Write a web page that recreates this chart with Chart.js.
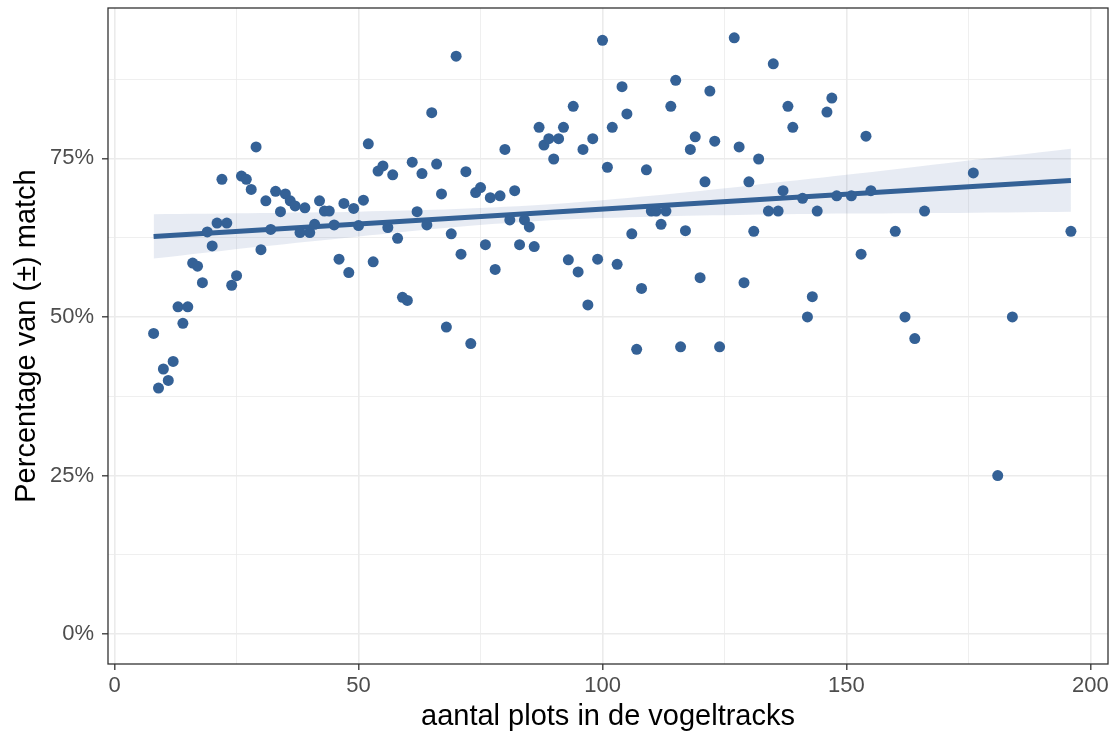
<!DOCTYPE html>
<html>
<head>
<meta charset="utf-8">
<script src="https://cdn.jsdelivr.net/npm/chart.js@4.4.0/dist/chart.umd.min.js"></script>
<style>
  html, body { margin:0; padding:0; background:#fff; }
  #wrap { width:1120px; height:736px; }
</style>
</head>
<body>
<div id="wrap"><canvas id="plot" width="1120" height="736"></canvas></div>
<script>
// aantal plots per vogeltrack en het percentage (±) match
const plots = [
  8, 9, 10, 11, 12, 13, 14, 15, 16, 17, 18, 19, 20, 21, 22, 23, 24, 25, 26, 27,
  28, 29, 30, 31, 32, 33, 34, 35, 36, 37, 38, 39, 40, 41, 42, 43, 44, 45, 46, 47,
  48, 49, 50, 51, 52, 53, 54, 55, 56, 57, 58, 59, 60, 61, 62, 63, 64, 65, 66, 67,
  68, 69, 70, 71, 72, 73, 74, 75, 76, 77, 78, 79, 80, 81, 82, 83, 84, 85, 86, 87,
  88, 89, 90, 91, 92, 93, 94, 95, 96, 97, 98, 99, 100, 101, 102, 103, 104, 105, 106, 107,
  108, 109, 110, 111, 112, 113, 114, 115, 116, 117, 118, 119, 120, 121, 122, 123, 124,
  127, 128, 129, 130, 131, 132, 134, 135, 136, 137, 138, 139, 141, 142, 143, 144,
  146, 147, 148, 151, 153, 154, 155, 160, 162, 164, 166, 176, 181, 184, 196
];
const matchPct = [
  47.4, 38.8, 41.8, 40.0, 43.0, 51.6, 49.0, 51.6, 58.5, 58.0, 55.4, 63.4, 61.2, 64.8, 71.7, 64.8, 55.0, 56.5, 72.2, 71.7,
  70.1, 76.8, 60.6, 68.3, 63.8, 69.8, 66.6, 69.4, 68.3, 67.5, 63.3, 67.2, 63.3, 64.6, 68.3, 66.7, 66.7, 64.5, 59.1, 67.9,
  57.0, 67.1, 64.4, 68.4, 77.3, 58.7, 73.0, 73.8, 64.1, 72.4, 62.4, 53.1, 52.6, 74.4, 66.6, 72.6, 64.5, 82.2, 74.1, 69.4,
  48.4, 63.1, 91.1, 59.9, 72.9, 45.8, 69.6, 70.4, 61.4, 68.8, 57.5, 69.1, 76.4, 65.3, 69.9, 61.4, 65.3, 64.2, 61.1, 79.9,
  77.1, 78.1, 74.9, 78.1, 79.9, 59.0, 83.2, 57.1, 76.4, 51.9, 78.1, 59.1, 93.6, 73.6, 79.9, 58.3, 86.3, 82.0, 63.1, 44.9,
  54.5, 73.2, 66.7, 66.7, 64.6, 66.7, 83.2, 87.3, 45.3, 63.6, 76.4, 78.4, 56.2, 71.3, 85.6, 77.7, 45.3,
  94.0, 76.8, 55.4, 71.3, 63.5, 74.9, 66.7, 89.9, 66.7, 69.9, 83.2, 79.9, 68.7, 50.0, 53.2, 66.7,
  82.3, 84.5, 69.1, 69.1, 59.9, 78.5, 69.9, 63.5, 50.0, 46.6, 66.7, 72.7, 25.0, 50.0, 63.5
];

// lineaire trend (lm) met betrouwbaarheidsband
const fitX = [8, 196];
const fitY = [62.7, 71.5];
const bandX = [8, 30, 50, 70, 90, 110, 130, 150, 170, 196];
const bandLow = [59.2, 61.1, 62.7, 64.2, 65.3, 65.8, 66.1, 66.3, 66.4, 66.6];
const bandHigh = [66.2, 66.4, 66.6, 67.0, 67.8, 69.1, 70.7, 72.4, 74.2, 76.5];

const xTicks = [0, 50, 100, 150, 200];
const yTicks = [0, 25, 50, 75];

const blue = '#346196';
const gridCol = '#EBEBEB';
const axisCol = '#333333';
const fontFam = '"Liberation Sans", Arial, Helvetica, sans-serif';

const pairs = (xs, ys) => xs.map((x, i) => ({x: x, y: ys[i]}));

// rand om het paneel (theme_bw)
const panelBorder = {
  id: 'panelBorder',
  afterDraw(chart){
    const {ctx, chartArea:a} = chart;
    ctx.save();
    ctx.strokeStyle = axisCol;
    ctx.lineWidth = 1.3;
    ctx.strokeRect(a.left, a.top, a.right - a.left, a.bottom - a.top);
    ctx.restore();
  }
};

const isMajor = (list, v) => list.includes(v);

new Chart(document.getElementById('plot'), {
  type: 'scatter',
  data: {
    datasets: [
      {
        label: 'tracks',
        data: pairs(plots, matchPct),
        backgroundColor: blue,
        borderWidth: 0,
        pointRadius: 5.5,
        pointHoverRadius: 5.5
      },
      {
        type: 'line',
        label: 'trend',
        data: pairs(fitX, fitY),
        borderColor: blue,
        borderWidth: 5,
        pointRadius: 0,
        fill: false
      },
      {
        type: 'line',
        label: 'band boven',
        data: pairs(bandX, bandHigh),
        borderWidth: 0,
        borderColor: 'rgba(0,0,0,0)',
        backgroundColor: 'rgba(60,90,160,0.12)',
        pointRadius: 0,
        tension: 0.3,
        fill: '+1'
      },
      {
        type: 'line',
        label: 'band onder',
        data: pairs(bandX, bandLow),
        borderWidth: 0,
        borderColor: 'rgba(0,0,0,0)',
        pointRadius: 0,
        tension: 0.3,
        fill: false
      }
    ]
  },
  options: {
    responsive: false,
    animation: false,
    layout: { padding: { top: 8, right: 12, left: 0, bottom: 0 } },
    plugins: { legend: { display: false }, tooltip: { enabled: false } },
    scales: {
      x: {
        type: 'linear',
        min: -1.35,
        max: 203.6,
        afterFit(s){ s.height = 72; s.paddingLeft = 0; s.paddingRight = 0; },
        border: { display: false },
        grid: {
          color: gridCol,
          lineWidth: c => isMajor(xTicks, c.tick && c.tick.value) ? 1.6 : 0.8,
          tickColor: c => isMajor(xTicks, c.tick && c.tick.value) ? axisCol : 'rgba(0,0,0,0)',
          tickLength: 6,
          tickWidth: 1.3
        },
        ticks: {
          stepSize: 25,
          includeBounds: false,
          autoSkip: false,
          maxRotation: 0,
          padding: 3,
          color: '#4D4D4D',
          font: { family: fontFam, size: 22 },
          callback: v => isMajor(xTicks, v) ? String(v) : ''
        },
        title: {
          display: true,
          text: 'aantal plots in de vogeltracks',
          color: '#000',
          font: { family: fontFam, size: 29 },
          padding: { top: 0, bottom: 2 }
        }
      },
      y: {
        type: 'linear',
        min: -4.7,
        max: 98.7,
        afterFit(s){ s.width = 108; s.paddingTop = 0; s.paddingBottom = 0; },
        border: { display: false },
        grid: {
          color: gridCol,
          lineWidth: c => isMajor(yTicks, c.tick && c.tick.value) ? 1.6 : 0.8,
          tickColor: c => isMajor(yTicks, c.tick && c.tick.value) ? axisCol : 'rgba(0,0,0,0)',
          tickLength: 6,
          tickWidth: 1.3
        },
        ticks: {
          stepSize: 12.5,
          includeBounds: false,
          autoSkip: false,
          padding: 8,
          color: '#4D4D4D',
          font: { family: fontFam, size: 22 },
          callback: v => isMajor(yTicks, v) ? v + '%' : ''
        },
        title: {
          display: true,
          text: 'Percentage van (±) match',
          color: '#000',
          font: { family: fontFam, size: 29 },
          padding: { top: 10, bottom: 0 }
        }
      }
    }
  },
  plugins: [panelBorder]
});
</script>
</body>
</html>
